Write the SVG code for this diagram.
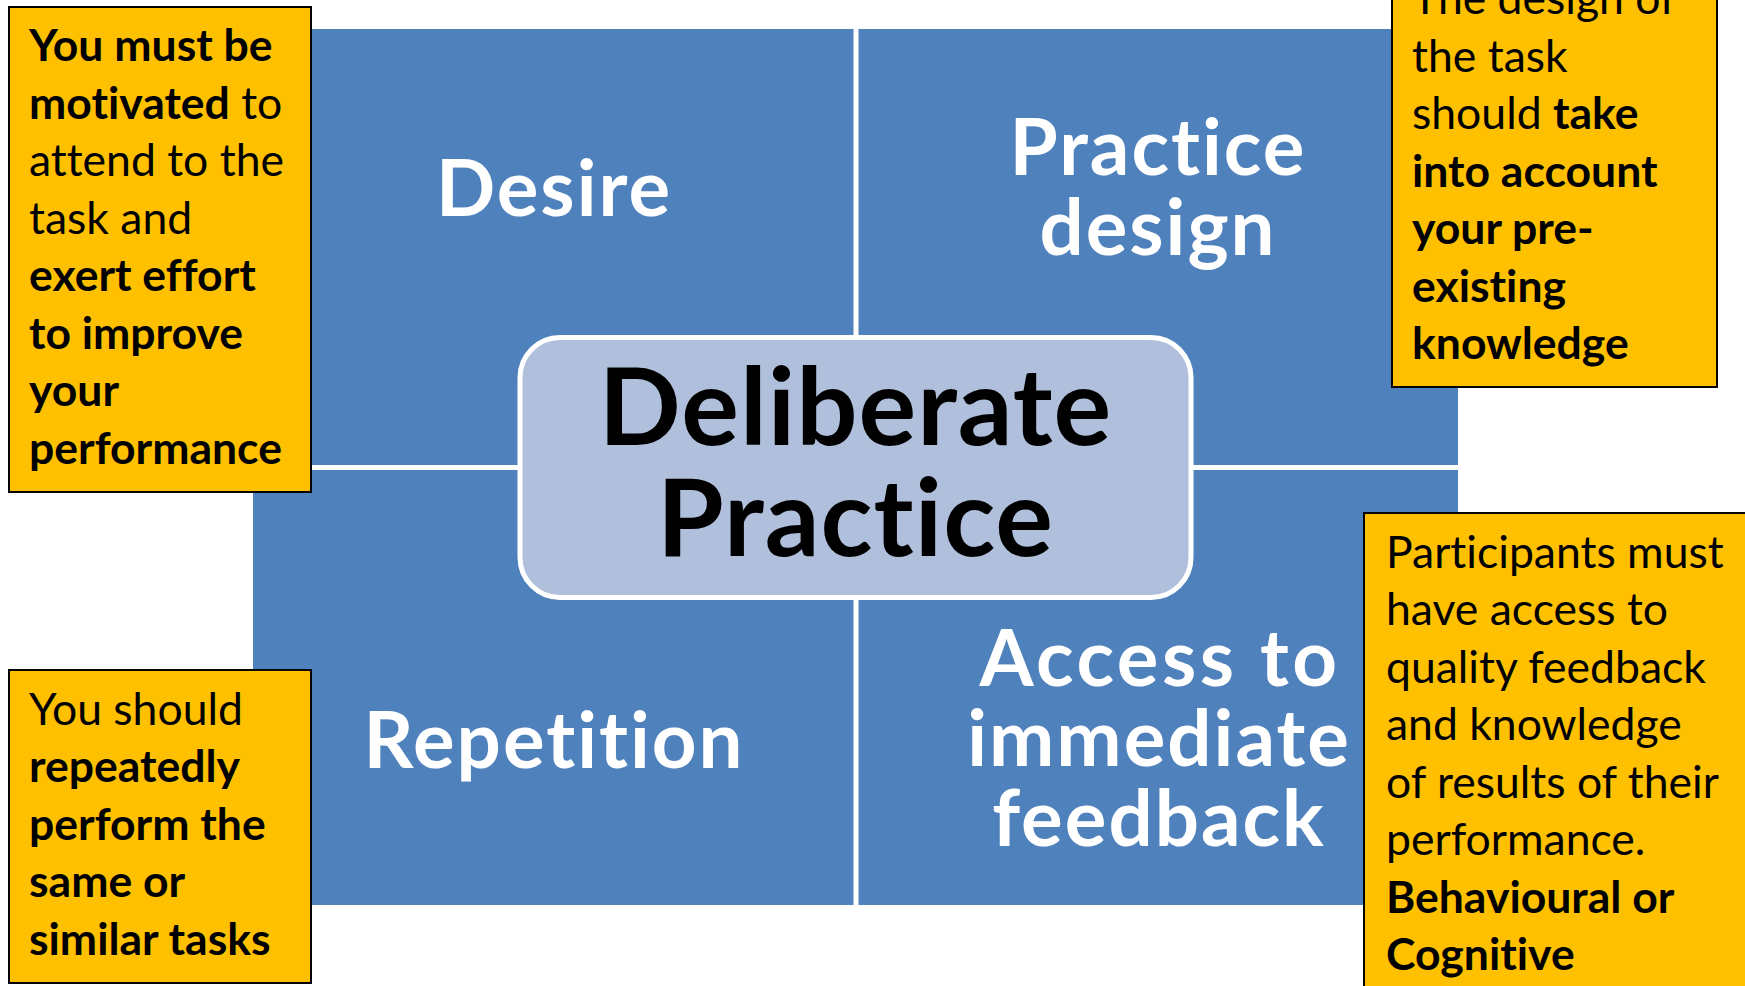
<svg xmlns="http://www.w3.org/2000/svg" width="1745" height="986" viewBox="0 0 1745 986">
  <style>
    text { font-variant-ligatures: none; }
    .quad { fill: #4F81BD; }
    .hub { fill: #B0C0DC; stroke: #FFFFFF; stroke-width: 5; }
    .label { font-family: Lato, "Open Sans", "Liberation Sans", sans-serif; font-weight: 700; font-size: 78px; fill: #FFFFFF; text-anchor: middle; letter-spacing: 2px; }
    .wide { letter-spacing: 3.5px; }
    .hub-label { font-family: Lato, "Open Sans", "Liberation Sans", sans-serif; font-weight: 700; font-size: 108px; fill: #000000; text-anchor: middle; letter-spacing: 1px; }
    .note { fill: #FFC000; stroke: #000000; stroke-width: 2; }
    .note-text { font-family: Lato, "Liberation Sans", sans-serif; font-size: 44.5px; fill: #000000; }
    .b { font-weight: 700; }
  </style>

  <rect width="1745" height="986" fill="#FFFFFF"/>

  <!-- 2x2 matrix quadrants -->
  <g id="quadrant-desire">
    <rect class="quad" x="253" y="29" width="600.5" height="436"/>
    <text class="label" x="554" y="216">Desire</text>
  </g>
  <g id="quadrant-practice-design">
    <rect class="quad" x="858.5" y="29" width="599.5" height="436"/>
    <text class="label" x="1158" y="175">Practice</text>
    <text class="label" x="1158" y="255">design</text>
  </g>
  <g id="quadrant-repetition">
    <rect class="quad" x="253" y="470" width="600.5" height="435"/>
    <text class="label" x="554" y="768">Repetition</text>
  </g>
  <g id="quadrant-feedback">
    <rect class="quad" x="858.5" y="470" width="599.5" height="435"/>
    <text class="label wide" x="1160" y="686">Access to</text>
    <text class="label" x="1159" y="766">immediate</text>
    <text class="label" x="1159" y="846">feedback</text>
  </g>

  <!-- central hub -->
  <g id="hub">
    <rect class="hub" x="520" y="337.5" width="671" height="260" rx="40" ry="40"/>
    <text class="hub-label" x="855.5" y="445">Deliberate</text>
    <text class="hub-label" x="855.5" y="556">Practice</text>
  </g>

  <!-- explanatory notes -->
  <g id="note-desire">
    <rect class="note" x="9" y="7" width="302" height="485"/>
    <text class="note-text" x="29" y="61"><tspan class="b">You must be</tspan></text>
    <text class="note-text" x="29" y="119"><tspan class="b">motivated</tspan> to</text>
    <text class="note-text" x="29" y="176">attend to the</text>
    <text class="note-text" x="29" y="234">task and</text>
    <text class="note-text" x="29" y="291"><tspan class="b">exert effort</tspan></text>
    <text class="note-text" x="29" y="349"><tspan class="b">to improve</tspan></text>
    <text class="note-text" x="29" y="406"><tspan class="b">your</tspan></text>
    <text class="note-text" x="29" y="464"><tspan class="b">performance</tspan></text>
  </g>

  <g id="note-practice-design">
    <rect class="note" x="1392" y="-10" width="325" height="397"/>
    <text class="note-text" x="1412" y="14">The design of</text>
    <text class="note-text" x="1412" y="72">the task</text>
    <text class="note-text" x="1412" y="129">should <tspan class="b">take</tspan></text>
    <text class="note-text" x="1412" y="187"><tspan class="b">into account</tspan></text>
    <text class="note-text" x="1412" y="244"><tspan class="b">your pre-</tspan></text>
    <text class="note-text" x="1412" y="302"><tspan class="b">existing</tspan></text>
    <text class="note-text" x="1412" y="359"><tspan class="b">knowledge</tspan></text>
  </g>

  <g id="note-repetition">
    <rect class="note" x="9" y="670" width="302" height="313"/>
    <text class="note-text" x="29" y="725">You should</text>
    <text class="note-text" x="29" y="782"><tspan class="b">repeatedly</tspan></text>
    <text class="note-text" x="29" y="840"><tspan class="b">perform the</tspan></text>
    <text class="note-text" x="29" y="897"><tspan class="b">same or</tspan></text>
    <text class="note-text" x="29" y="955"><tspan class="b">similar tasks</tspan></text>
  </g>

  <g id="note-feedback">
    <rect class="note" x="1364" y="513" width="390" height="490"/>
    <text class="note-text" x="1386" y="568">Participants must</text>
    <text class="note-text" x="1386" y="625">have access to</text>
    <text class="note-text" x="1386" y="683">quality feedback</text>
    <text class="note-text" x="1386" y="740">and knowledge</text>
    <text class="note-text" x="1386" y="798">of results of their</text>
    <text class="note-text" x="1386" y="855">performance.</text>
    <text class="note-text" x="1386" y="913"><tspan class="b">Behavioural or</tspan></text>
    <text class="note-text" x="1386" y="970"><tspan class="b">Cognitive</tspan></text>
  </g>
</svg>
